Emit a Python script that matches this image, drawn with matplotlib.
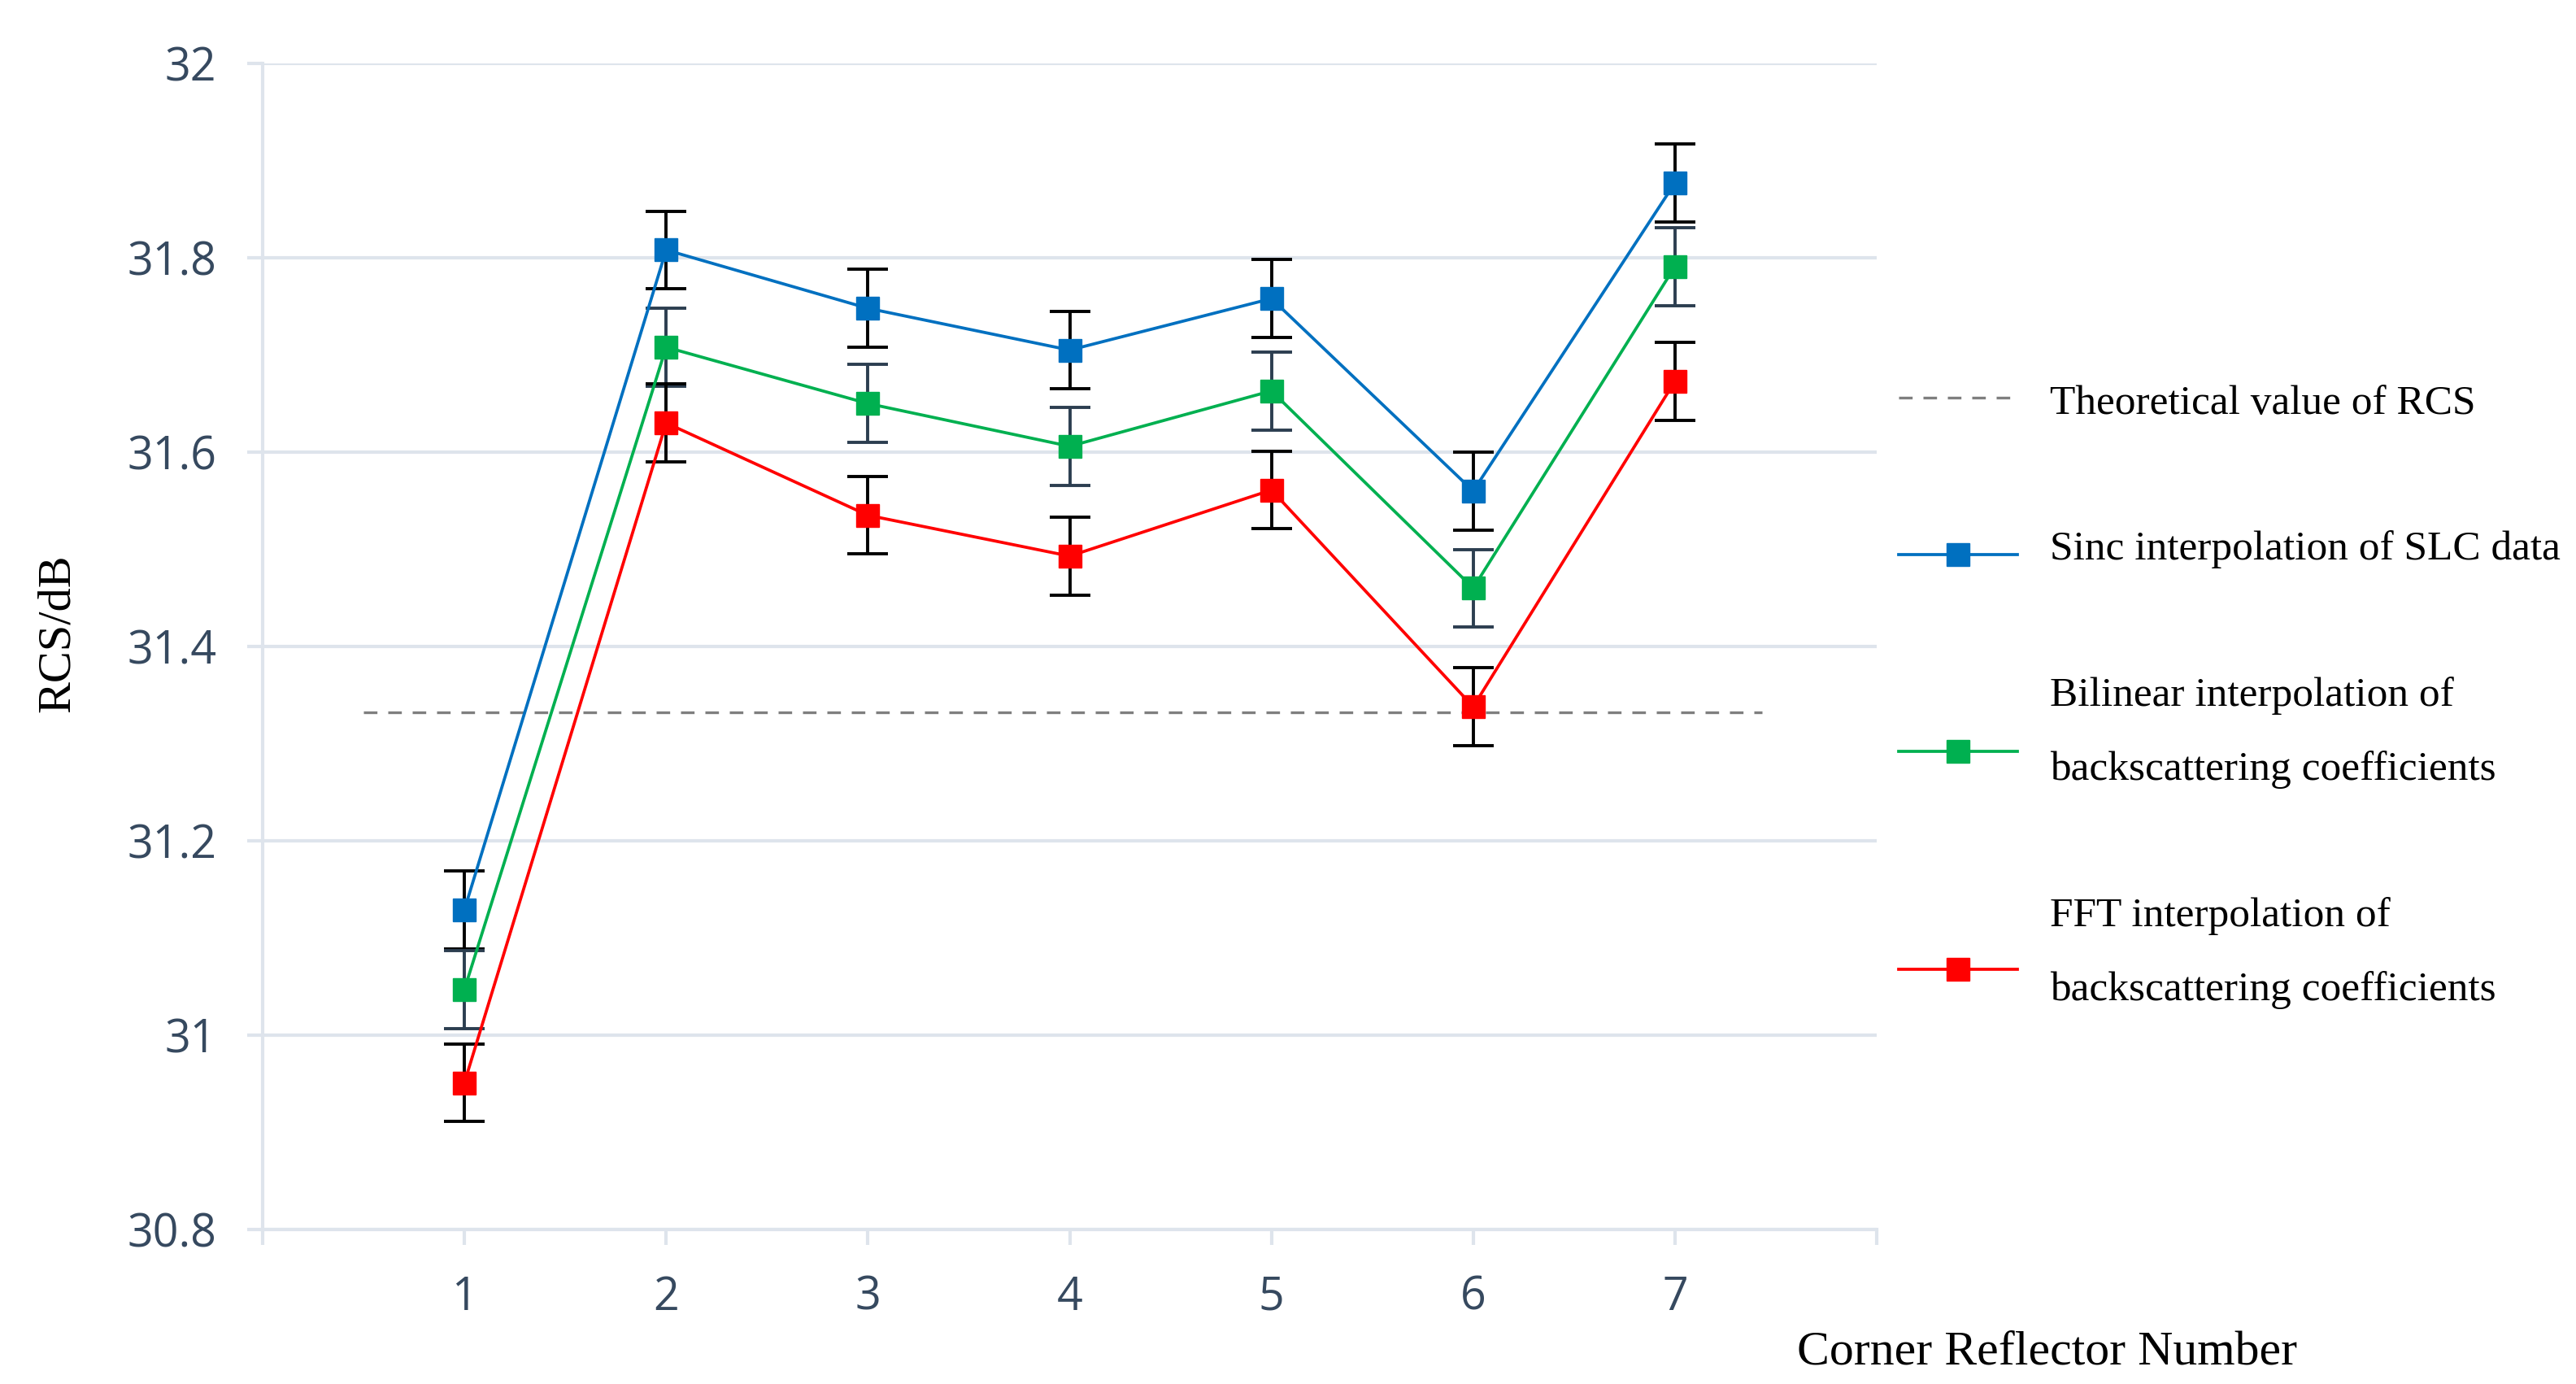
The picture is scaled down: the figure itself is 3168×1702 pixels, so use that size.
import matplotlib
matplotlib.use('Agg')
import matplotlib.pyplot as plt
from matplotlib.lines import Line2D

# ---------------- data ----------------
reflectors = [1, 2, 3, 4, 5, 6, 7]
sinc_vals = [31.129, 31.808, 31.748, 31.705, 31.758, 31.560, 31.877]
bilinear_vals = [31.047, 31.708, 31.650, 31.606, 31.663, 31.460, 31.791]
fft_vals = [30.951, 31.630, 31.535, 31.493, 31.561, 31.338, 31.673]
sinc_err = [0.04, 0.04, 0.04, 0.04, 0.04, 0.04, 0.04]
bilinear_err = [0.04, 0.04, 0.04, 0.04, 0.04, 0.04, 0.04]
fft_err = [0.04, 0.04, 0.04, 0.04, 0.04, 0.04, 0.04]
theory_value = 31.332
theory_span = [0.5, 7.43]
y_ticks = [30.8, 31.0, 31.2, 31.4, 31.6, 31.8, 32.0]
x_ticks = [0, 1, 2, 3, 4, 5, 6, 7, 8]
x_tick_labels = ['', '1', '2', '3', '4', '5', '6', '7', '']
legend_labels = ["Theoretical value of RCS",
                 "Sinc interpolation of SLC data",
                 ["Bilinear interpolation of", "backscattering coefficients"],
                 ["FFT interpolation of", "backscattering coefficients"]]

# ---------------- style ----------------
W, H, DPI = 3168, 1702, 100
BLUE, GREEN, RED = '#0070C0', '#00B050', '#FF0000'
GRID = '#DEE4EC'
TICKC = '#36495F'
SERIF = 'Liberation Serif'
SANS = 'Open Sans'

def fx(px):
    return px / W

def fy(py):
    return 1 - py / H

fig = plt.figure(figsize=(W / DPI, H / DPI), dpi=DPI)
ax = fig.add_axes([fx(323), fy(1512), (2308 - 323) / W, (1512 - 78) / H])

ax.set_xlim(0, 8)
ax.set_ylim(30.8, 32.0)
ax.set_yticks(y_ticks)
ax.set_yticklabels([f"{v:g}" for v in y_ticks])
ax.set_xticks(x_ticks)
ax.set_xticklabels(x_tick_labels)

ax.grid(axis='y', color=GRID, linewidth=3.0, zorder=0)
ax.set_axisbelow(True)
for s in ['top', 'right']:
    ax.spines[s].set_visible(False)
for s in ['left', 'bottom']:
    ax.spines[s].set_color(GRID)
    ax.spines[s].set_linewidth(3.0)

ax.tick_params(axis='y', length=14, width=3.0, color=GRID, pad=27,
               labelsize=40, labelcolor=TICKC)
ax.tick_params(axis='x', length=14, width=3.0, color=GRID, pad=26,
               labelsize=40, labelcolor=TICKC)
for lab in ax.get_xticklabels() + ax.get_yticklabels():
    lab.set_family(SANS)

# theoretical line
ax.hlines(theory_value, theory_span[0], theory_span[1], colors='#7F7F7F',
          linestyles=(0, (5, 4)), linewidth=2.4, zorder=2)

common = dict(marker='s', markersize=20, linewidth=2.7, capsize=18,
              elinewidth=2.8, capthick=2.8, zorder=3)
ax.errorbar(reflectors, sinc_vals, yerr=sinc_err, color=BLUE, ecolor='black', **common)
ax.errorbar(reflectors, bilinear_vals, yerr=bilinear_err, color=GREEN, ecolor='#2C3E50', **common)
ax.errorbar(reflectors, fft_vals, yerr=fft_err, color=RED, ecolor='black', **common)

# axis labels
ax.set_ylabel('RCS/dB', family=SERIF, fontsize=42, color='black', va='center')
ax.yaxis.set_label_coords(fx(71), fy(779), transform=fig.transFigure)
ax.set_xlabel('Corner Reflector Number', family=SERIF, fontsize=43, color='black',
              ha='center', va='baseline')
ax.xaxis.set_label_coords(fx(2518), fy(1677), transform=fig.transFigure)

# ---------------- legend (manual) ----------------
hx0, hx1, hxc = 2335, 2481, 2408
tx = 2521
# theoretical
fig.add_artist(Line2D([fx(hx0), fx(hx1)], [fy(489), fy(489)], transform=fig.transFigure,
                      color='#7F7F7F', linestyle=(0, (5, 4)), linewidth=2.4))
fig.text(fx(tx), fy(509), legend_labels[0], family=SERIF, fontsize=37, va='baseline')
# series entries
entries = [(BLUE, 682, legend_labels[1], [688]),
           (GREEN, 924, legend_labels[2], [868, 959]),
           (RED, 1192, legend_labels[3], [1139, 1230])]
for col, yc, lab, bases in entries:
    fig.add_artist(Line2D([fx(hx0), fx(hx1)], [fy(yc), fy(yc)], transform=fig.transFigure,
                          color=col, linewidth=2.7))
    fig.add_artist(Line2D([fx(hxc)], [fy(yc)], transform=fig.transFigure,
                          color=col, marker='s', markersize=20, linestyle='none'))
    lines = lab if isinstance(lab, list) else [lab]
    for t, b in zip(lines, bases):
        fig.text(fx(tx), fy(b), t, family=SERIF, fontsize=37, va='baseline')

fig.savefig('out.png', dpi=DPI, facecolor='white')
